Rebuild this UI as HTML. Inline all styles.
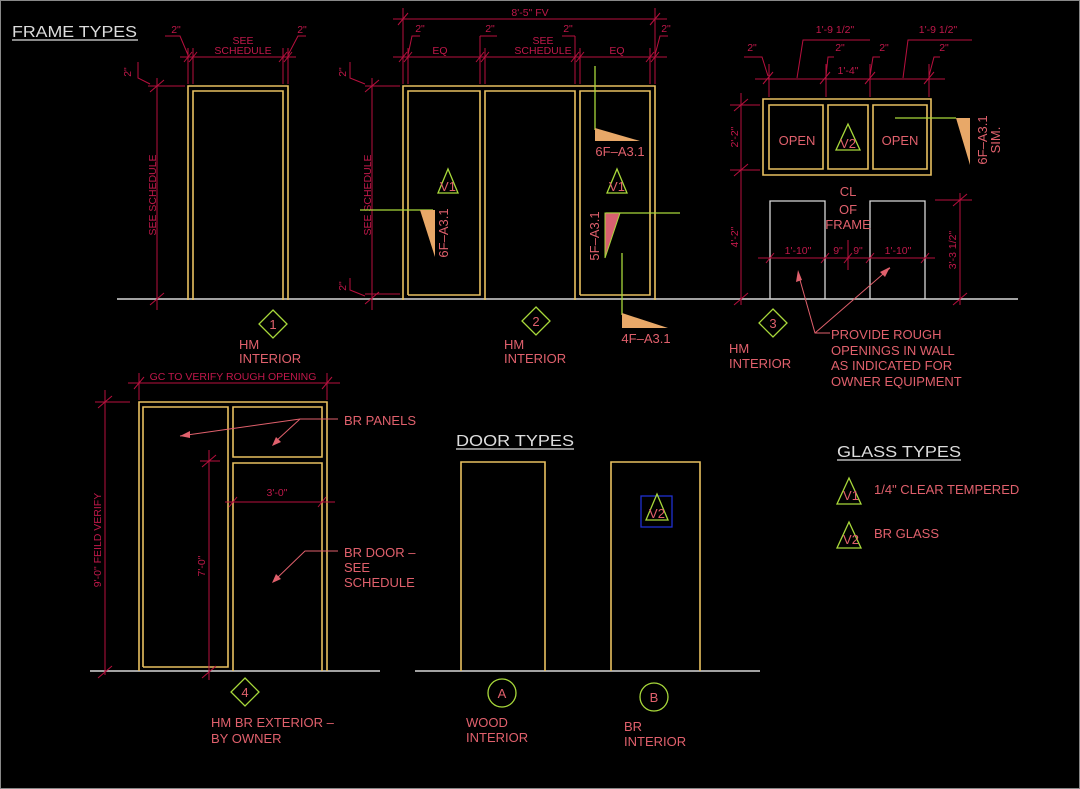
<!DOCTYPE html>
<html><head><meta charset="utf-8"><style>
html,body{margin:0;padding:0;background:#000;}
svg{display:block;}
text{font-family:"Liberation Sans",sans-serif;}
.t{fill:#e0606c;font-size:13px;}
.d{fill:#c0184a;font-size:10.5px;}
.r{stroke:#b8103e;stroke-width:1;fill:none;}
.y{stroke:#e8c060;stroke-width:1.6;fill:none;}
.w{stroke:#d8d8d8;stroke-width:1.6;fill:none;}
.g{stroke:#a8d83a;stroke-width:1.3;fill:none;}
.wd{fill:#e8a868;stroke:none;}
</style></head><body>
<svg width="1080" height="789" viewBox="0 0 1080 789" xmlns="http://www.w3.org/2000/svg">
<rect x="0" y="0" width="1080" height="789" fill="#000"/>
<rect x="0.5" y="0.5" width="1079" height="788" fill="none" stroke="#888" stroke-width="1"/>

<!-- Titles -->
<text x="12" y="37" fill="#ddd" font-size="16" textLength="125" lengthAdjust="spacingAndGlyphs">FRAME TYPES</text>
<line x1="12" y1="40" x2="138" y2="40" stroke="#ddd" stroke-width="1.3"/>
<text x="456" y="446" fill="#ddd" font-size="16" textLength="118" lengthAdjust="spacingAndGlyphs">DOOR TYPES</text>
<line x1="456" y1="449" x2="574" y2="449" stroke="#ddd" stroke-width="1.3"/>
<text x="837" y="457" fill="#ddd" font-size="16" textLength="124" lengthAdjust="spacingAndGlyphs">GLASS TYPES</text>
<line x1="837" y1="460" x2="961" y2="460" stroke="#ddd" stroke-width="1.3"/>

<!-- Ground lines -->
<line x1="117" y1="299" x2="1018" y2="299" class="w"/>
<line x1="90" y1="671" x2="380" y2="671" class="w"/>
<line x1="415" y1="671" x2="760" y2="671" class="w"/>

<!-- FRAME 1 -->
<path class="y" d="M188 300V86H288V300M193 300V91H283V300"/>
<g class="r">
<line x1="180" y1="57" x2="296" y2="57"/>
<line x1="188" y1="48" x2="188" y2="84"/><line x1="193" y1="48" x2="193" y2="84"/>
<line x1="283" y1="48" x2="283" y2="84"/><line x1="288" y1="48" x2="288" y2="84"/>
<line x1="184" y1="62" x2="192" y2="52"/><line x1="189" y1="62" x2="197" y2="52"/>
<line x1="279" y1="62" x2="287" y2="52"/><line x1="284" y1="62" x2="292" y2="52"/>
<polyline points="165,36 180,36 188,55"/><polyline points="306,36 298,36 288,55"/>
<line x1="157" y1="78" x2="157" y2="310"/><line x1="148" y1="86" x2="185" y2="86"/>
<line x1="150" y1="92" x2="164" y2="80"/><line x1="150" y1="305" x2="164" y2="293"/>
<polyline points="138,62 138,78 150,84"/>
</g>
<text class="d" x="243" y="44" text-anchor="middle">SEE</text>
<text class="d" x="243" y="54" text-anchor="middle">SCHEDULE</text>
<text class="d" x="176" y="33" text-anchor="middle">2"</text>
<text class="d" x="302" y="33" text-anchor="middle">2"</text>
<text class="d" transform="translate(131,72) rotate(-90)" text-anchor="middle">2"</text>
<text class="d" transform="translate(156,195) rotate(-90)" text-anchor="middle">SEE SCHEDULE</text>
<path d="M273 310L287 324L273 338L259 324Z" class="g"/>
<text x="273" y="329" class="t" text-anchor="middle" font-size="12">1</text>
<text class="t" x="239" y="349">HM</text>
<text class="t" x="239" y="363">INTERIOR</text>

<!-- FRAME 2 -->
<path class="y" d="M403 300V86H655V300M408 295V91H480V295H408M485 300V91H575V300M580 295V91H650V295H580"/>
<g class="r">
<line x1="393" y1="19" x2="667" y2="19"/>
<line x1="393" y1="57" x2="667" y2="57"/>
<line x1="403" y1="8" x2="403" y2="84"/><line x1="408" y1="48" x2="408" y2="84"/>
<line x1="480" y1="36" x2="480" y2="84"/><line x1="485" y1="48" x2="485" y2="84"/>
<line x1="575" y1="36" x2="575" y2="84"/><line x1="580" y1="48" x2="580" y2="84"/>
<line x1="650" y1="48" x2="650" y2="84"/><line x1="655" y1="8" x2="655" y2="84"/>
<line x1="398" y1="25" x2="408" y2="13"/><line x1="650" y1="25" x2="660" y2="13"/>
<line x1="399" y1="62" x2="407" y2="52"/><line x1="404" y1="62" x2="412" y2="52"/>
<line x1="476" y1="62" x2="484" y2="52"/><line x1="481" y1="62" x2="489" y2="52"/>
<line x1="571" y1="62" x2="579" y2="52"/><line x1="576" y1="62" x2="584" y2="52"/>
<line x1="646" y1="62" x2="654" y2="52"/><line x1="651" y1="62" x2="659" y2="52"/>
<polyline points="420,36 412,36 408,55"/><polyline points="497,36 480,36"/>
<polyline points="562,36 575,36"/><polyline points="668,36 660,36 655,55"/>
<line x1="372" y1="78" x2="372" y2="310"/><line x1="365" y1="86" x2="400" y2="86"/>
<line x1="365" y1="294" x2="400" y2="294"/>
<line x1="365" y1="92" x2="379" y2="80"/><line x1="365" y1="304" x2="379" y2="292"/>
<polyline points="350,62 350,78 365,84"/><polyline points="350,278 350,290 365,296"/>
</g>
<text class="d" x="530" y="16" text-anchor="middle">8'-5" FV</text>
<text class="d" x="440" y="54" text-anchor="middle">EQ</text>
<text class="d" x="543" y="44" text-anchor="middle">SEE</text>
<text class="d" x="543" y="54" text-anchor="middle">SCHEDULE</text>
<text class="d" x="617" y="54" text-anchor="middle">EQ</text>
<text class="d" x="420" y="32" text-anchor="middle">2"</text>
<text class="d" x="490" y="32" text-anchor="middle">2"</text>
<text class="d" x="568" y="32" text-anchor="middle">2"</text>
<text class="d" x="666" y="32" text-anchor="middle">2"</text>
<text class="d" transform="translate(346,72) rotate(-90)" text-anchor="middle">2"</text>
<text class="d" transform="translate(346,286) rotate(-90)" text-anchor="middle">2"</text>
<text class="d" transform="translate(371,195) rotate(-90)" text-anchor="middle">SEE SCHEDULE</text>
<path class="g" d="M448 169L458 193H438Z"/><text x="448" y="191" class="t" text-anchor="middle" font-size="11">V1</text>
<path class="g" d="M617 169L627 193H607Z"/><text x="617" y="191" class="t" text-anchor="middle" font-size="11">V1</text>
<line class="g" x1="360" y1="210" x2="433" y2="210"/>
<path class="wd" d="M420 210H435V257Z"/>
<text class="t" transform="translate(448,233) rotate(-90)" text-anchor="middle">6F–A3.1</text>
<line class="g" x1="595" y1="66" x2="595" y2="130"/>
<path class="wd" d="M595 128V141H640Z"/>
<text class="t" x="620" y="156" text-anchor="middle">6F–A3.1</text>
<line class="g" x1="606" y1="213" x2="680" y2="213"/>
<path d="M605 213H620L605 258Z" fill="#d86070" stroke="#a8d83a" stroke-width="1"/>
<text class="t" transform="translate(599,236) rotate(-90)" text-anchor="middle">5F–A3.1</text>
<line class="g" x1="622" y1="253" x2="622" y2="315"/>
<path class="wd" d="M622 313V328H668Z"/>
<text class="t" x="646" y="343" text-anchor="middle">4F–A3.1</text>
<path d="M536 307L550 321L536 335L522 321Z" class="g"/>
<text x="536" y="326" class="t" text-anchor="middle" font-size="12">2</text>
<text class="t" x="504" y="349">HM</text>
<text class="t" x="504" y="363">INTERIOR</text>

<!-- FRAME 3 -->
<path class="y" d="M763 99H931V175H763Z"/>
<path class="y" d="M769 105H823V169H769ZM828 105H868V169H828ZM873 105H927V169H873Z"/>
<path class="w" style="stroke-width:1.3" d="M770 299V201H825V299M870 299V201H925V299"/>
<text class="t" x="797" y="145" text-anchor="middle">OPEN</text>
<text class="t" x="900" y="145" text-anchor="middle">OPEN</text>
<path class="g" d="M848 124L860 150H836Z"/><text x="848" y="148" class="t" text-anchor="middle" font-size="11">V2</text>
<line class="g" x1="895" y1="118" x2="956" y2="118"/>
<path class="wd" d="M956 118H970V165Z"/>
<text class="t" transform="translate(987,140) rotate(-90)" text-anchor="middle">6F–A3.1</text>
<text class="t" transform="translate(1000,140) rotate(-90)" text-anchor="middle">SIM.</text>
<g class="r">
<line x1="755" y1="79" x2="945" y2="79"/>
<line x1="769" y1="64" x2="769" y2="97"/><line x1="826" y1="64" x2="826" y2="97"/>
<line x1="870" y1="64" x2="870" y2="97"/><line x1="929" y1="64" x2="929" y2="97"/>
<line x1="763" y1="84" x2="773" y2="72"/><line x1="820" y1="84" x2="830" y2="72"/>
<line x1="865" y1="84" x2="875" y2="72"/><line x1="924" y1="84" x2="934" y2="72"/>
<polyline points="744,57 762,57 768,76"/><polyline points="797,78 803,40 870,40"/>
<polyline points="834,57 828,57 826,76"/><polyline points="880,57 873,57 870,76"/>
<polyline points="903,78 908,40 972,40"/><polyline points="940,57 934,57 929,76"/>
<line x1="741" y1="93" x2="741" y2="305"/>
<line x1="730" y1="105" x2="760" y2="105"/><line x1="730" y1="170" x2="760" y2="170"/>
<line x1="734" y1="111" x2="748" y2="99"/><line x1="734" y1="176" x2="748" y2="164"/>
<line x1="734" y1="305" x2="748" y2="293"/>
<line x1="758" y1="258" x2="935" y2="258"/>
<line x1="766" y1="263" x2="774" y2="253"/><line x1="821" y1="263" x2="829" y2="253"/>
<line x1="844" y1="263" x2="852" y2="253"/><line x1="866" y1="263" x2="874" y2="253"/>
<line x1="921" y1="263" x2="929" y2="253"/><line x1="848" y1="240" x2="848" y2="270"/>
<line x1="960" y1="193" x2="960" y2="305"/><line x1="935" y1="200" x2="972" y2="200"/>
<line x1="953" y1="206" x2="967" y2="194"/><line x1="953" y1="305" x2="967" y2="293"/>
</g>
<text class="d" x="835" y="33" text-anchor="middle">1'-9 1/2"</text>
<text class="d" x="938" y="33" text-anchor="middle">1'-9 1/2"</text>
<text class="d" x="752" y="51" text-anchor="middle">2"</text>
<text class="d" x="840" y="51" text-anchor="middle">2"</text>
<text class="d" x="884" y="51" text-anchor="middle">2"</text>
<text class="d" x="944" y="51" text-anchor="middle">2"</text>
<text class="d" x="848" y="74" text-anchor="middle">1'-4"</text>
<text class="d" transform="translate(738,137) rotate(-90)" text-anchor="middle">2'-2"</text>
<text class="d" transform="translate(738,237) rotate(-90)" text-anchor="middle">4'-2"</text>
<text class="d" transform="translate(956,250) rotate(-90)" text-anchor="middle">3'-3 1/2"</text>
<text class="d" x="798" y="254" text-anchor="middle">1'-10"</text>
<text class="d" x="838" y="254" text-anchor="middle">9"</text>
<text class="d" x="858" y="254" text-anchor="middle">9"</text>
<text class="d" x="898" y="254" text-anchor="middle">1'-10"</text>
<text class="t" x="848" y="196" text-anchor="middle">CL</text>
<text class="t" x="848" y="214" text-anchor="middle">OF</text>
<text class="t" x="848" y="229" text-anchor="middle">FRAME</text>
<g stroke="#e0606c" fill="none"><polyline points="798,273 815,333 830,333"/><line x1="815" y1="333" x2="890" y2="268"/></g>
<path d="M798 270L796 282L802 280Z" fill="#e0606c"/><path d="M890 267L880 272L885 277Z" fill="#e0606c"/>
<text class="t" x="831" y="339">PROVIDE ROUGH</text>
<text class="t" x="831" y="355">OPENINGS IN WALL</text>
<text class="t" x="831" y="370">AS INDICATED FOR</text>
<text class="t" x="831" y="386">OWNER EQUIPMENT</text>
<path d="M773 309L787 323L773 337L759 323Z" class="g"/>
<text x="773" y="328" class="t" text-anchor="middle" font-size="12">3</text>
<text class="t" x="729" y="353">HM</text>
<text class="t" x="729" y="368">INTERIOR</text>

<!-- FRAME 4 -->
<path class="y" d="M139 671V402H327V671M143 667V407H228V667H143M233 407H322V457H233ZM233 671V463H322V671"/>
<g class="r">
<line x1="128" y1="383" x2="340" y2="383"/>
<line x1="139" y1="373" x2="139" y2="400"/><line x1="327" y1="373" x2="327" y2="400"/>
<line x1="134" y1="389" x2="144" y2="377"/><line x1="322" y1="389" x2="332" y2="377"/>
<line x1="105" y1="390" x2="105" y2="675"/><line x1="95" y1="402" x2="130" y2="402"/>
<line x1="98" y1="408" x2="112" y2="396"/><line x1="98" y1="678" x2="112" y2="666"/>
<line x1="209" y1="450" x2="209" y2="680"/><line x1="200" y1="461" x2="220" y2="461"/>
<line x1="202" y1="467" x2="216" y2="455"/><line x1="202" y1="678" x2="216" y2="666"/>
<line x1="225" y1="502" x2="335" y2="502"/>
<line x1="229" y1="507" x2="237" y2="497"/><line x1="318" y1="507" x2="326" y2="497"/>
</g>
<text class="d" x="233" y="380" text-anchor="middle" font-size="10">GC TO VERIFY ROUGH OPENING</text>
<text class="d" transform="translate(101,540) rotate(-90)" text-anchor="middle" font-size="10">9'-0" FEILD VERIFY</text>
<text class="d" transform="translate(205,566) rotate(-90)" text-anchor="middle">7'-0"</text>
<text class="d" x="277" y="496" text-anchor="middle">3'-0"</text>
<g stroke="#e0606c" fill="none"><polyline points="338,419 300,419 180,436"/><line x1="300" y1="419" x2="275" y2="442"/>
<polyline points="338,551 305,551 275,580"/></g>
<path d="M180 436L190 431L190 438Z" fill="#e0606c"/><path d="M272 446L276 437L281 442Z" fill="#e0606c"/>
<path d="M272 583L276 574L281 579Z" fill="#e0606c"/>
<text class="t" x="344" y="425">BR PANELS</text>
<text class="t" x="344" y="557">BR DOOR –</text>
<text class="t" x="344" y="572">SEE</text>
<text class="t" x="344" y="587">SCHEDULE</text>
<path d="M245 678L259 692L245 706L231 692Z" class="g"/>
<text x="245" y="697" class="t" text-anchor="middle" font-size="12">4</text>
<text class="t" x="211" y="727">HM BR EXTERIOR –</text>
<text class="t" x="211" y="743">BY OWNER</text>

<!-- DOORS -->
<path class="y" d="M461 671V462H545V671M611 671V462H700V671"/>
<rect x="641" y="496" width="31" height="31" fill="none" stroke="#2030d0" stroke-width="1.3"/>
<path class="g" d="M657 494L668 520H646Z"/><text x="657" y="518" class="t" text-anchor="middle" font-size="11">V2</text>
<ellipse cx="502" cy="693" rx="14" ry="14" class="g"/>
<text x="502" y="698" class="t" text-anchor="middle" font-size="11">A</text>
<ellipse cx="654" cy="697" rx="14" ry="14" class="g"/>
<text x="654" y="702" class="t" text-anchor="middle" font-size="11">B</text>
<text class="t" x="466" y="727">WOOD</text>
<text class="t" x="466" y="742">INTERIOR</text>
<text class="t" x="624" y="731">BR</text>
<text class="t" x="624" y="746">INTERIOR</text>

<!-- GLASS TYPES -->
<path class="g" d="M849 478L861 504H837Z"/><text x="851" y="500" class="t" text-anchor="middle" font-size="11">V1</text>
<text class="t" x="874" y="494">1/4" CLEAR TEMPERED</text>
<path class="g" d="M849 522L861 548H837Z"/><text x="851" y="544" class="t" text-anchor="middle" font-size="11">V2</text>
<text class="t" x="874" y="538">BR GLASS</text>
</svg>
</body></html>
